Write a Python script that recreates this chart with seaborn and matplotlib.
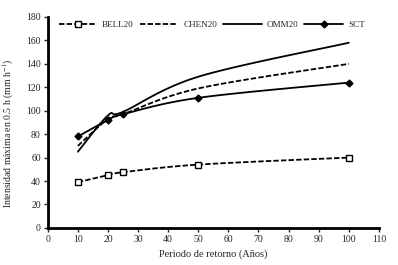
import numpy as np
import pandas as pd
import matplotlib
matplotlib.use("Agg")
import matplotlib.pyplot as plt
from matplotlib.lines import Line2D
import seaborn as sns

# periodo de retorno (anos)
periodo = [10, 20, 25, 50, 100]
bell20 = [39, 45, 47.5, 54, 60]
chen20 = [70, 93, 97, 119, 140]
omm20 = [65, 96, 99, 129, 158]
sct = [78, 92, 97, 111, 124]

sns.set_theme(style="ticks")
plt.rcParams['font.family'] = ['Liberation Serif', 'DejaVu Serif']
plt.rcParams['mathtext.fontset'] = 'stix'


def smooth(x, y, n=30):
    # Catmull-Rom like Excel "smoothed line"
    x = np.asarray(x, float)
    y = np.asarray(y, float)
    P = np.column_stack([x, y])
    P = np.vstack([P[0], P, P[-1]])
    out = []
    for i in range(1, len(P) - 2):
        p0, p1, p2, p3 = P[i - 1], P[i], P[i + 1], P[i + 2]
        c1 = p1 + (p2 - p0) / 6
        c2 = p2 - (p3 - p1) / 6
        t = np.linspace(0, 1, n)[:, None]
        b = (1 - t) ** 3 * p1 + 3 * (1 - t) ** 2 * t * c1 + 3 * (1 - t) * t ** 2 * c2 + t ** 3 * p2
        out.append(b if i == 1 else b[1:])
    out = np.vstack(out)
    return out[:, 0], out[:, 1]


fig, ax = plt.subplots(figsize=(3.98, 2.65), dpi=100)
fig.subplots_adjust(left=0.12, right=0.952, bottom=0.14, top=0.936)

dash = (3, 1.2)
series = [
    ("BELL20", bell20, dash, "s", "white"),
    ("CHEN20", chen20, dash, None, None),
    ("OMM20", omm20, "", None, None),
    ("SCT", sct, "", "D", "black"),
]

handles = []
for name, vals, ls, mk, mfc in series:
    sx, sy = smooth(periodo, vals)
    sns.lineplot(x=sx, y=sy, ax=ax, color="black", lw=1.3, sort=False,
                 dashes=False, estimator=None)
    line = ax.get_lines()[-1]
    if ls:
        line.set_dashes(ls)
    ms = 4.5 if mk == "s" else 3.5
    if mk:
        ax.plot(periodo, vals, ls="none", marker=mk, ms=ms,
                mfc=mfc, mec="black", mew=1.0, zorder=5)
    h = Line2D([], [], color="black", lw=1.3, marker=mk, ms=ms,
               mfc=mfc, mec="black", mew=1.0)
    if ls:
        h.set_dashes(ls)
    handles.append(h)

ax.legend(handles, [s[0] for s in series], loc="upper center", ncol=4,
          frameon=False, fontsize=6.6, handlelength=4.2, columnspacing=0.65,
          handletextpad=0.55, bbox_to_anchor=(0.495, 1.02))

ax.set_xlim(0, 110)
ax.set_ylim(0, 180)
ax.set_xticks(range(0, 111, 10))
ax.set_yticks(range(0, 181, 20))
ax.tick_params(labelsize=7, length=3, width=1, direction="out", pad=2)
for s in ["left", "bottom"]:
    ax.spines[s].set_linewidth(2)
    ax.spines[s].set_color("black")
sns.despine(ax=ax)
ax.set_xlabel("Periodo de retorno (Años)", fontsize=7.5)
ax.set_ylabel("Intensidad máxima en 0.5 h (mm h$^{-1}$)", fontsize=7)
ax.yaxis.set_label_coords(-0.095, 0.45)

fig.savefig("out.png", dpi=100)
